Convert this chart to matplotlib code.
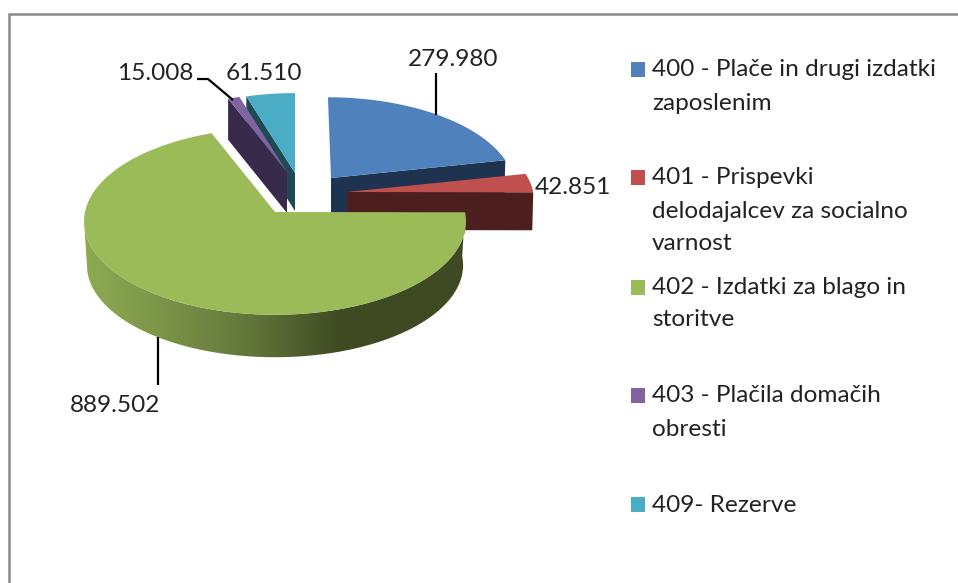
from __future__ import annotations

import matplotlib

matplotlib.use("Agg")

import matplotlib.pyplot as plt
import numpy as np
from matplotlib.colors import LinearSegmentedColormap
from matplotlib.patches import PathPatch, Polygon, Rectangle
from matplotlib.path import Path as MplPath

# data
codes = ["400", "401", "402", "403", "409"]
values = [279980, 42851, 889502, 15008, 61510]
value_labels = ["279.980", "42.851", "889.502", "15.008", "61.510"]
legend_lines = [
    ["400 - Plače in drugi izdatki", "zaposlenim"],
    ["401 - Prispevki", "delodajalcev za socialno", "varnost"],
    ["402 - Izdatki za blago in", "storitve"],
    ["403 - Plačila domačih", "obresti"],
    ["409- Rezerve"],
]

# style
top_colors = ["#4f81bd", "#c0504d", "#9bbb59", "#8064a2", "#4bacc6"]
cut_colors = ["#1e3350", "#4c1f1e", "#3f4a22", "#372a4b", "#1f4a53"]
text_color = "#222222"

# layout, in picture pixels
RX, RY, PERSP = 190.0, 92.5, 0.1
tips = [(331, 178), (347, 192), (275, 212), (287, 172), (295, 173)]
scales = [0.96, 0.98, 1.0, 0.93, 0.95]
leans = [0.038, 0.0, 0.0, 0.0, 0.0]
depths = [40, 38, 44, 41, 38]
label_pos = [(453, 59), (573, 187), (115, 405), (155, 73), (264, 73)]
leaders = [
    [(436.5, 73), (436.5, 115)],
    None,
    [(158, 337), (158, 385)],
    [(197, 79), (208, 79), (233, 100)],
    None,
]
legend_y = [[70, 103], [178, 211, 244], [288, 320], [396, 429], [505]]
FONT = "Lato"
FONT_SIZE = 17.6


def project(theta, tip, scale, lean=0.0):
    # theta in degrees clockwise from twelve o'clock
    rad = np.radians(theta)
    u, v = np.sin(rad), np.cos(rad)
    den = 1 + PERSP * v
    dy = -scale * RY * v / den
    return tip[0] + scale * RX * u / den + lean * dy, tip[1] + dy


def main() -> None:
    fig = plt.figure(figsize=(9.58, 5.83), dpi=100)
    ax = fig.add_axes([0, 0, 1, 1])

    shares = np.array(values) / sum(values) * 360
    ends = np.cumsum(shares)
    starts = ends - shares

    # back slices first, green on top
    for order, i in enumerate([4, 3, 0, 1]):
        tip = tips[i]
        x_a, y_a = project(starts[i], tip, scales[i], leans[i])
        x_b, y_b = project(ends[i], tip, scales[i], leans[i])
        # cut face that faces the viewer
        if i in (3, 4):
            face = [(x_a, y_a), tip, (tip[0], tip[1] + depths[i]), (x_a, y_a + depths[i])]
        else:
            face = [tip, (x_b, y_b), (x_b - 1, y_b + depths[i]), (tip[0], tip[1] + depths[i])]
        ax.add_patch(Polygon(face, closed=True, fc=cut_colors[i], ec="none", zorder=2 + order))
        theta = np.linspace(starts[i], ends[i], 60)
        xs, ys = project(theta, tip, scales[i], leans[i])
        top = np.column_stack([np.r_[tip[0], xs], np.r_[tip[1], ys]])
        ax.add_patch(Polygon(top, closed=True, fc=top_colors[i], ec="none", zorder=2 + order))

    # the big slice: rim side with the shading from light left to dark right
    tip = tips[2]
    theta = np.linspace(starts[2], 264, 240)
    upper_x, upper_y = project(theta, tip, 1.0)
    lower_x, lower_y = project(theta, (tip[0], tip[1] + depths[2]), 0.985)
    side = np.column_stack([np.r_[upper_x, lower_x[::-1]], np.r_[upper_y, lower_y[::-1]]])
    side_patch = PathPatch(MplPath(np.vstack([side, side[0]])), fc="none", ec="none", zorder=8)
    ax.add_patch(side_patch)
    stops = [(0.0, "#8dab52"), (0.2, "#7c9548"), (0.44, "#62753a"), (0.67, "#3f4a22"), (1.0, "#3f4a22")]
    cmap = LinearSegmentedColormap.from_list("green_side", stops)
    shade = ax.imshow(
        np.linspace(0, 1, 400).reshape(1, -1),
        extent=(83, 466, 370, 205),
        cmap=cmap,
        aspect="auto",
        zorder=8,
    )
    shade.set_clip_path(side_patch)

    theta = np.linspace(starts[2], ends[2], 300)
    xs, ys = project(theta, tip, 1.0)
    top = np.column_stack([np.r_[tip[0], xs], np.r_[tip[1], ys]])
    ax.add_patch(Polygon(top, closed=True, fc=top_colors[2], ec="none", zorder=9))

    # value labels and leader lines
    for label, pos, leader in zip(value_labels, label_pos, leaders):
        ax.text(*pos, label, ha="center", va="center", fontsize=FONT_SIZE, family=FONT, color=text_color, zorder=12)
        if leader:
            ax.plot(*zip(*leader), color="black", lw=1.6, zorder=11, solid_capstyle="butt")

    # legend
    for lines, ys_line, color in zip(legend_lines, legend_y, top_colors):
        ax.add_patch(Rectangle((631, ys_line[0] - 8.5), 14, 15, fc=color, ec="none", zorder=5))
        for line, y in zip(lines, ys_line):
            ax.text(652, y, line, ha="left", va="center", fontsize=FONT_SIZE, family=FONT, color=text_color)

    # chart frame, only top and left show
    ax.plot([9, 9, 958], [583, 14, 14], color="#8a8a8a", lw=1.8, zorder=1, solid_joinstyle="miter")

    ax.set_xlim(0, 958)
    ax.set_ylim(583, 0)
    ax.axis("off")
    fig.savefig("out.png", dpi=100)
    plt.close(fig)


if __name__ == "__main__":
    main()
